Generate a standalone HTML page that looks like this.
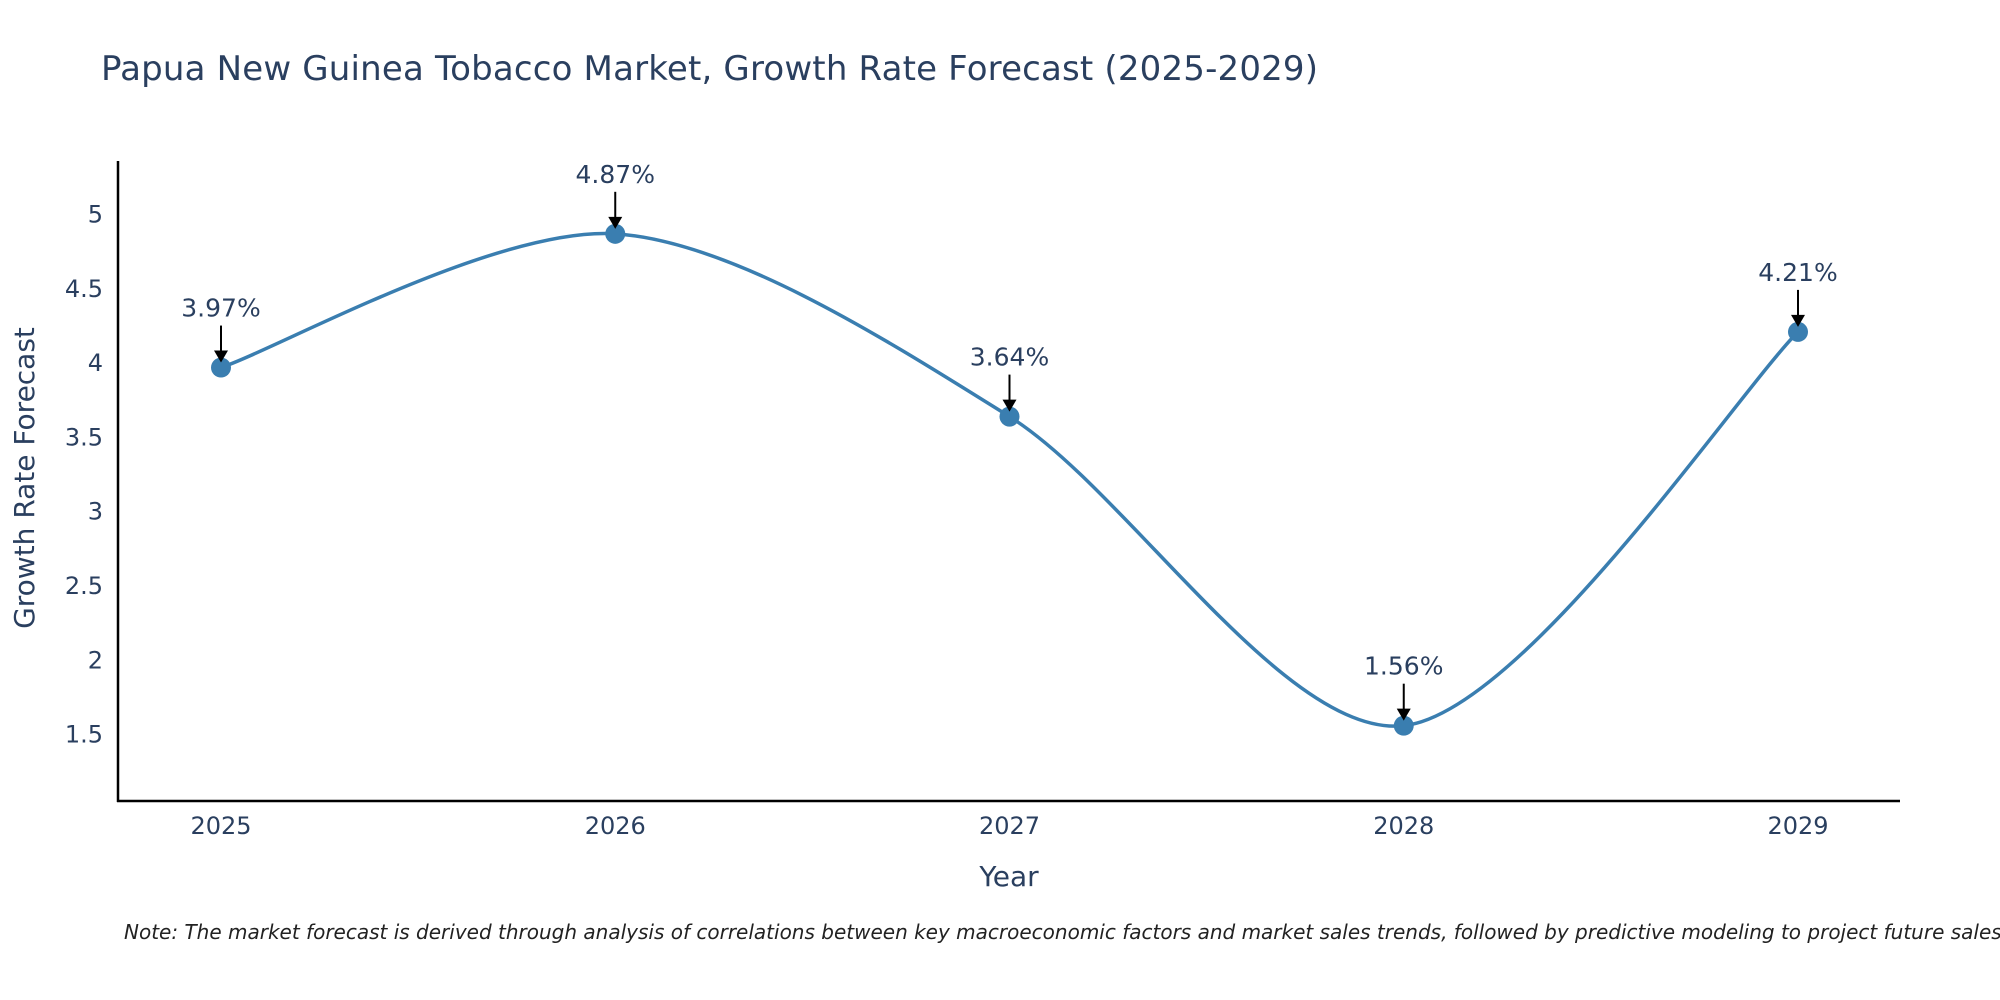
<!DOCTYPE html>
<html><head><meta charset="utf-8"><style>
html,body{margin:0;padding:0;background:#fff;overflow:hidden;}
svg{display:block;font-family:"DejaVu Sans","Liberation Sans",sans-serif;}
</style></head><body>
<svg id="chart" width="2000" height="1000" viewBox="0 0 2000 1000">
<text x="101" y="80" font-size="34" fill="#2a3f5f" textLength="1217">Papua New Guinea Tobacco Market, Growth Rate Forecast (2025-2029)</text>
<g id="yticks"></g>
<g id="xticks"></g>
<path id="line" fill="none" stroke="#3a7eb0" stroke-width="3.5"/>
<g id="points"></g>
<g id="annos"></g>
<line x1="118" y1="161" x2="118" y2="802" stroke="#000" stroke-width="2.5"/>
<line x1="117" y1="801" x2="1900" y2="801" stroke="#000" stroke-width="2.5"/>
<text transform="translate(34,478) rotate(-90)" text-anchor="middle" font-size="28" fill="#2a3f5f">Growth Rate Forecast</text>
<text x="1009" y="886" text-anchor="middle" font-size="28" fill="#2a3f5f">Year</text>
<text x="124" y="939" font-size="20" font-style="italic" fill="#222">Note: The market forecast is derived through analysis of correlations between key macroeconomic factors and market sales trends, followed by predictive modeling to project future sales.</text>
</svg>
<script>
const years = [2025, 2026, 2027, 2028, 2029];
const values = [3.97, 4.87, 3.64, 1.56, 4.21];
const labels = ["3.97%", "4.87%", "3.64%", "1.56%", "4.21%"];
const yTickValues = [1.5, 2, 2.5, 3, 3.5, 4, 4.5, 5];
const yTickLabels = ["1.5", "2", "2.5", "3", "3.5", "4", "4.5", "5"];

const NS = "http://www.w3.org/2000/svg";
function xs(yr){ return 221 + (yr - 2025) * 394.25; }
function ys(v){ return 214.5 + (5 - v) * 148.6; }
function mk(tag, attrs, parent){ const e = document.createElementNS(NS, tag); for (const k in attrs) e.setAttribute(k, attrs[k]); parent.appendChild(e); return e; }

const yt = document.getElementById('yticks');
yTickValues.forEach((v, i) => {
  const t = mk('text', {x: 103, y: ys(v) + 8, 'text-anchor': 'end', 'font-size': 24, fill: '#2a3f5f'}, yt);
  
  
  t.textContent = yTickLabels[i];
});
const xt = document.getElementById('xticks');
years.forEach(y => {
  const t = mk('text', {x: xs(y), y: 834, 'text-anchor': 'middle', 'font-size': 24, fill: '#2a3f5f'}, xt);
  
  
  t.textContent = String(y);
});

const pts = years.map((y, i) => [xs(y), ys(values[i])]);
let d = `M${pts[0][0]},${pts[0][1]}`;
const tens = 0.45;
for (let i = 0; i < pts.length - 1; i++) {
  const p0 = pts[Math.max(i - 1, 0)], p1 = pts[i], p2 = pts[i + 1], p3 = pts[Math.min(i + 2, pts.length - 1)];
  const c1 = [p1[0] + (p2[0] - p0[0]) * tens / 3, p1[1] + (p2[1] - p0[1]) * tens / 3];
  const c2 = [p2[0] - (p3[0] - p1[0]) * tens / 3, p2[1] - (p3[1] - p1[1]) * tens / 3];
  d += ` C${c1[0]},${c1[1]} ${c2[0]},${c2[1]} ${p2[0]},${p2[1]}`;
}
document.getElementById('line').setAttribute('d', d);

const pg = document.getElementById('points');
const ag = document.getElementById('annos');
pts.forEach((p, i) => {
  const c = mk('circle', {cx: p[0], cy: p[1], r: 10, fill: '#3a7eb0'}, pg);
  
  
  const l = mk('line', {x1: p[0], y1: p[1] - 42, x2: p[0], y2: p[1] - 14, stroke: '#000', 'stroke-width': 2}, ag);
  
  
  const h = mk('polygon', {points: `${p[0] - 7},${p[1] - 17} ${p[0] + 7},${p[1] - 17} ${p[0]},${p[1] - 5}`, fill: '#000'}, ag);
  
  
  const t = mk('text', {x: p[0], y: p[1] - 51, 'text-anchor': 'middle', 'font-size': 25, fill: '#2a3f5f'}, ag);
  
  
  t.textContent = labels[i];
});
</script>
</body></html>
